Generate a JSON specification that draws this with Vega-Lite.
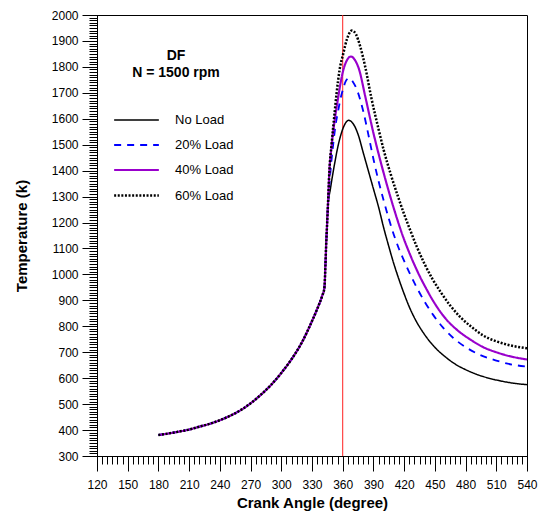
{
  "$schema": "https://vega.github.io/schema/vega-lite/v6.json",
  "width": 430,
  "height": 441,
  "autosize": {"type": "none"},
  "padding": {"left": 97, "top": 15, "right": 20, "bottom": 58},
  "background": "white",
  "config": {
    "font": "Liberation Sans",
    "view": {"stroke": "black", "strokeWidth": 1},
    "axis": {"grid": false, "domainColor": "black", "tickColor": "black", "labelColor": "black", "titleColor": "black", "labelFont": "Liberation Sans", "titleFont": "Liberation Sans"},
    "legend": {"orient": "none", "legendX": 22, "legendY": 34, "titleFontSize": 14, "titleFontWeight": "bold", "titleAnchor": "middle", "titleLineHeight": 17, "titlePadding": 23, "symbolType": "M-1.414,0L1.414,0", "symbolSize": 1000, "labelFontSize": 13, "labelOffset": 21, "rowPadding": 1, "labelColor": "black", "titleColor": "black"}
  },
  "datasets": {
    "curves": [
      {"load": "No Load", "angle": 180, "temp": 381}, {"load": "No Load", "angle": 190, "temp": 387}, {"load": "No Load", "angle": 200, "temp": 394}, {"load": "No Load", "angle": 210, "temp": 402}, {"load": "No Load", "angle": 220, "temp": 413}, {"load": "No Load", "angle": 230, "temp": 424}, {"load": "No Load", "angle": 240, "temp": 438}, {"load": "No Load", "angle": 250, "temp": 455}, {"load": "No Load", "angle": 260, "temp": 476}, {"load": "No Load", "angle": 270, "temp": 503}, {"load": "No Load", "angle": 280, "temp": 536}, {"load": "No Load", "angle": 290, "temp": 574}, {"load": "No Load", "angle": 300, "temp": 620}, {"load": "No Load", "angle": 310, "temp": 673}, {"load": "No Load", "angle": 320, "temp": 737}, {"load": "No Load", "angle": 330, "temp": 820}, {"load": "No Load", "angle": 335, "temp": 866}, {"load": "No Load", "angle": 340, "temp": 918}, {"load": "No Load", "angle": 342, "temp": 945}, {"load": "No Load", "angle": 344, "temp": 1130}, {"load": "No Load", "angle": 345.5, "temp": 1260},
      {"load": "No Load", "angle": 348, "temp": 1330}, {"load": "No Load", "angle": 352, "temp": 1425}, {"load": "No Load", "angle": 356, "temp": 1505}, {"load": "No Load", "angle": 360, "temp": 1560}, {"load": "No Load", "angle": 363, "temp": 1585}, {"load": "No Load", "angle": 366, "temp": 1594}, {"load": "No Load", "angle": 370, "temp": 1582}, {"load": "No Load", "angle": 375, "temp": 1540}, {"load": "No Load", "angle": 380, "temp": 1470}, {"load": "No Load", "angle": 385, "temp": 1400}, {"load": "No Load", "angle": 390, "temp": 1330}, {"load": "No Load", "angle": 395, "temp": 1260}, {"load": "No Load", "angle": 400, "temp": 1180}, {"load": "No Load", "angle": 405, "temp": 1108}, {"load": "No Load", "angle": 410, "temp": 1040}, {"load": "No Load", "angle": 415, "temp": 980}, {"load": "No Load", "angle": 420, "temp": 925}, {"load": "No Load", "angle": 425, "temp": 875}, {"load": "No Load", "angle": 430, "temp": 833}, {"load": "No Load", "angle": 440, "temp": 768}, {"load": "No Load", "angle": 450, "temp": 719}, {"load": "No Load", "angle": 460, "temp": 683}, {"load": "No Load", "angle": 470, "temp": 654}, {"load": "No Load", "angle": 480, "temp": 633}, {"load": "No Load", "angle": 490, "temp": 616}, {"load": "No Load", "angle": 500, "temp": 603}, {"load": "No Load", "angle": 510, "temp": 593}, {"load": "No Load", "angle": 520, "temp": 585}, {"load": "No Load", "angle": 530, "temp": 579}, {"load": "No Load", "angle": 540, "temp": 575},

      {"load": "20% Load", "angle": 180, "temp": 381}, {"load": "20% Load", "angle": 190, "temp": 387}, {"load": "20% Load", "angle": 200, "temp": 394}, {"load": "20% Load", "angle": 210, "temp": 402}, {"load": "20% Load", "angle": 220, "temp": 413}, {"load": "20% Load", "angle": 230, "temp": 424}, {"load": "20% Load", "angle": 240, "temp": 438}, {"load": "20% Load", "angle": 250, "temp": 455}, {"load": "20% Load", "angle": 260, "temp": 476}, {"load": "20% Load", "angle": 270, "temp": 503}, {"load": "20% Load", "angle": 280, "temp": 536}, {"load": "20% Load", "angle": 290, "temp": 574}, {"load": "20% Load", "angle": 300, "temp": 620}, {"load": "20% Load", "angle": 310, "temp": 673}, {"load": "20% Load", "angle": 320, "temp": 737}, {"load": "20% Load", "angle": 330, "temp": 820}, {"load": "20% Load", "angle": 335, "temp": 866}, {"load": "20% Load", "angle": 340, "temp": 918}, {"load": "20% Load", "angle": 342, "temp": 945}, {"load": "20% Load", "angle": 344, "temp": 1130}, {"load": "20% Load", "angle": 345.5, "temp": 1260},
      {"load": "20% Load", "angle": 347.6, "temp": 1377}, {"load": "20% Load", "angle": 350.8, "temp": 1505}, {"load": "20% Load", "angle": 353, "temp": 1575}, {"load": "20% Load", "angle": 355.7, "temp": 1634}, {"load": "20% Load", "angle": 358, "temp": 1680}, {"load": "20% Load", "angle": 360, "temp": 1710}, {"load": "20% Load", "angle": 363, "temp": 1745}, {"load": "20% Load", "angle": 366, "temp": 1756}, {"load": "20% Load", "angle": 370, "temp": 1742}, {"load": "20% Load", "angle": 375, "temp": 1700}, {"load": "20% Load", "angle": 380, "temp": 1630}, {"load": "20% Load", "angle": 385, "temp": 1540}, {"load": "20% Load", "angle": 390, "temp": 1445}, {"load": "20% Load", "angle": 395, "temp": 1360}, {"load": "20% Load", "angle": 400, "temp": 1285}, {"load": "20% Load", "angle": 405, "temp": 1215}, {"load": "20% Load", "angle": 410, "temp": 1152}, {"load": "20% Load", "angle": 415, "temp": 1098}, {"load": "20% Load", "angle": 420, "temp": 1052}, {"load": "20% Load", "angle": 425, "temp": 1008}, {"load": "20% Load", "angle": 432, "temp": 952}, {"load": "20% Load", "angle": 440, "temp": 895}, {"load": "20% Load", "angle": 448.5, "temp": 843}, {"load": "20% Load", "angle": 458, "temp": 795}, {"load": "20% Load", "angle": 468, "temp": 755}, {"load": "20% Load", "angle": 480, "temp": 720}, {"load": "20% Load", "angle": 494, "temp": 690}, {"load": "20% Load", "angle": 510, "temp": 668}, {"load": "20% Load", "angle": 526, "temp": 652}, {"load": "20% Load", "angle": 540, "temp": 645},

      {"load": "40% Load", "angle": 180, "temp": 381}, {"load": "40% Load", "angle": 190, "temp": 387}, {"load": "40% Load", "angle": 200, "temp": 394}, {"load": "40% Load", "angle": 210, "temp": 402}, {"load": "40% Load", "angle": 220, "temp": 413}, {"load": "40% Load", "angle": 230, "temp": 424}, {"load": "40% Load", "angle": 240, "temp": 438}, {"load": "40% Load", "angle": 250, "temp": 455}, {"load": "40% Load", "angle": 260, "temp": 476}, {"load": "40% Load", "angle": 270, "temp": 503}, {"load": "40% Load", "angle": 280, "temp": 536}, {"load": "40% Load", "angle": 290, "temp": 574}, {"load": "40% Load", "angle": 300, "temp": 620}, {"load": "40% Load", "angle": 310, "temp": 673}, {"load": "40% Load", "angle": 320, "temp": 737}, {"load": "40% Load", "angle": 330, "temp": 820}, {"load": "40% Load", "angle": 335, "temp": 866}, {"load": "40% Load", "angle": 340, "temp": 918}, {"load": "40% Load", "angle": 342, "temp": 945}, {"load": "40% Load", "angle": 344, "temp": 1130}, {"load": "40% Load", "angle": 345.5, "temp": 1260},
      {"load": "40% Load", "angle": 347, "temp": 1400}, {"load": "40% Load", "angle": 349, "temp": 1490}, {"load": "40% Load", "angle": 352, "temp": 1590}, {"load": "40% Load", "angle": 355.7, "temp": 1685}, {"load": "40% Load", "angle": 358, "temp": 1740}, {"load": "40% Load", "angle": 360.6, "temp": 1788}, {"load": "40% Load", "angle": 364, "temp": 1825}, {"load": "40% Load", "angle": 368, "temp": 1840}, {"load": "40% Load", "angle": 372, "temp": 1826}, {"load": "40% Load", "angle": 376, "temp": 1790}, {"load": "40% Load", "angle": 381.8, "temp": 1690}, {"load": "40% Load", "angle": 390, "temp": 1545}, {"load": "40% Load", "angle": 398, "temp": 1420}, {"load": "40% Load", "angle": 405, "temp": 1320}, {"load": "40% Load", "angle": 412, "temp": 1228}, {"load": "40% Load", "angle": 419, "temp": 1145}, {"load": "40% Load", "angle": 427, "temp": 1065}, {"load": "40% Load", "angle": 435, "temp": 995}, {"load": "40% Load", "angle": 442, "temp": 942}, {"load": "40% Load", "angle": 448, "temp": 900}, {"load": "40% Load", "angle": 460, "temp": 832}, {"load": "40% Load", "angle": 472, "temp": 785}, {"load": "40% Load", "angle": 485, "temp": 748}, {"load": "40% Load", "angle": 497, "temp": 720}, {"load": "40% Load", "angle": 510, "temp": 700}, {"load": "40% Load", "angle": 523, "temp": 685}, {"load": "40% Load", "angle": 540, "temp": 672},

      {"load": "60% Load", "angle": 180, "temp": 381}, {"load": "60% Load", "angle": 190, "temp": 387}, {"load": "60% Load", "angle": 200, "temp": 394}, {"load": "60% Load", "angle": 210, "temp": 402}, {"load": "60% Load", "angle": 220, "temp": 413}, {"load": "60% Load", "angle": 230, "temp": 424}, {"load": "60% Load", "angle": 240, "temp": 438}, {"load": "60% Load", "angle": 250, "temp": 455}, {"load": "60% Load", "angle": 260, "temp": 476}, {"load": "60% Load", "angle": 270, "temp": 503}, {"load": "60% Load", "angle": 280, "temp": 536}, {"load": "60% Load", "angle": 290, "temp": 574}, {"load": "60% Load", "angle": 300, "temp": 620}, {"load": "60% Load", "angle": 310, "temp": 673}, {"load": "60% Load", "angle": 320, "temp": 737}, {"load": "60% Load", "angle": 330, "temp": 820}, {"load": "60% Load", "angle": 335, "temp": 866}, {"load": "60% Load", "angle": 340, "temp": 918}, {"load": "60% Load", "angle": 342, "temp": 945}, {"load": "60% Load", "angle": 344, "temp": 1130}, {"load": "60% Load", "angle": 345.5, "temp": 1260},
      {"load": "60% Load", "angle": 347, "temp": 1400}, {"load": "60% Load", "angle": 349.2, "temp": 1505}, {"load": "60% Load", "angle": 352, "temp": 1620}, {"load": "60% Load", "angle": 354, "temp": 1698}, {"load": "60% Load", "angle": 357, "temp": 1790}, {"load": "60% Load", "angle": 360.6, "temp": 1852}, {"load": "60% Load", "angle": 364, "temp": 1905}, {"load": "60% Load", "angle": 369, "temp": 1940}, {"load": "60% Load", "angle": 373, "temp": 1925}, {"load": "60% Load", "angle": 377, "temp": 1880}, {"load": "60% Load", "angle": 382, "temp": 1800}, {"load": "60% Load", "angle": 388, "temp": 1680}, {"load": "60% Load", "angle": 395, "temp": 1560}, {"load": "60% Load", "angle": 400, "temp": 1480}, {"load": "60% Load", "angle": 407, "temp": 1385}, {"load": "60% Load", "angle": 414, "temp": 1300}, {"load": "60% Load", "angle": 420, "temp": 1232}, {"load": "60% Load", "angle": 426, "temp": 1170}, {"load": "60% Load", "angle": 432, "temp": 1110}, {"load": "60% Load", "angle": 440, "temp": 1040}, {"load": "60% Load", "angle": 448, "temp": 980}, {"load": "60% Load", "angle": 456, "temp": 930}, {"load": "60% Load", "angle": 465, "temp": 880}, {"load": "60% Load", "angle": 475, "temp": 835}, {"load": "60% Load", "angle": 485, "temp": 800}, {"load": "60% Load", "angle": 497, "temp": 765}, {"load": "60% Load", "angle": 510, "temp": 742}, {"load": "60% Load", "angle": 523, "temp": 727}, {"load": "60% Load", "angle": 540, "temp": 715}
    ],
    "tdc": [{"angle": 360}]
  },
  "resolve": {"axis": {"x": "independent", "y": "independent"}},
  "layer": [
    {
      "data": {"name": "tdc"},
      "mark": {"type": "rule", "color": "#ff2020", "strokeWidth": 1},
      "encoding": {
        "x": {"field": "angle", "type": "quantitative", "scale": {"domain": [120, 540], "nice": false},
          "axis": {"orient": "bottom", "values": [120,125,130,135,140,145,150,155,160,165,170,175,180,185,190,195,200,205,210,215,220,225,230,235,240,245,250,255,260,265,270,275,280,285,290,295,300,305,310,315,320,325,330,335,340,345,350,355,360,365,370,375,380,385,390,395,400,405,410,415,420,425,430,435,440,445,450,455,460,465,470,475,480,485,490,495,500,505,510,515,520,525,530,535,540], "labels": false, "title": null, "tickSize": 8, "domain": true, "grid": false}}
      }
    },
    {
      "data": {"name": "curves"},
      "mark": {"type": "line", "interpolate": "monotone", "clip": true},
      "encoding": {
        "x": {"field": "angle", "type": "quantitative", "scale": {"domain": [120, 540], "nice": false},
          "axis": {"orient": "bottom", "values": [120,150,180,210,240,270,300,330,360,390,420,450,480,510,540], "tickSize": 15, "labelFontSize": 12, "labelPadding": 8, "labelFlush": false, "labelOverlap": false, "labelBound": false, "title": "Crank Angle (degree)", "titleFontSize": 15, "titleFontWeight": "bold", "titlePadding": 5}},
        "y": {"field": "temp", "type": "quantitative", "scale": {"domain": [300, 2000], "nice": false, "zero": false},
          "axis": {"orient": "left", "values": [300,400,500,600,700,800,900,1000,1100,1200,1300,1400,1500,1600,1700,1800,1900,2000], "tickSize": 15, "labelFontSize": 12, "labelPadding": 4, "labelFlush": false, "labelOverlap": false, "format": "d", "title": "Temperature (k)", "titleFontSize": 15, "titleFontWeight": "bold", "titlePadding": 22}},
        "color": {"field": "load", "type": "nominal",
          "scale": {"domain": ["No Load", "20% Load", "40% Load", "60% Load"], "range": ["#000000", "#0000ff", "#9900cc", "#000000"]},
          "legend": {"title": ["DF", "N = 1500 rpm"]}},
        "strokeDash": {"field": "load", "type": "nominal",
          "scale": {"domain": ["No Load", "20% Load", "40% Load", "60% Load"], "range": [[1, 0], [7, 6], [1, 0], [2, 1.6]]},
          "legend": {"title": ["DF", "N = 1500 rpm"]}},
        "strokeWidth": {"field": "load", "type": "nominal",
          "scale": {"domain": ["No Load", "20% Load", "40% Load", "60% Load"], "range": [1.5, 2.5, 2.5, 2.5]},
          "legend": {"title": ["DF", "N = 1500 rpm"]}}
      }
    },
    {
      "data": {"name": "tdc"},
      "mark": {"type": "rule", "color": "#ff2020", "strokeWidth": 1, "opacity": 0},
      "encoding": {
        "y": {"datum": 300, "type": "quantitative", "scale": {"domain": [300, 2000], "nice": false, "zero": false},
          "axis": {"orient": "left", "values": [300,310,320,330,340,350,360,370,380,390,400,410,420,430,440,450,460,470,480,490,500,510,520,530,540,550,560,570,580,590,600,610,620,630,640,650,660,670,680,690,700,710,720,730,740,750,760,770,780,790,800,810,820,830,840,850,860,870,880,890,900,910,920,930,940,950,960,970,980,990,1000,1010,1020,1030,1040,1050,1060,1070,1080,1090,1100,1110,1120,1130,1140,1150,1160,1170,1180,1190,1200,1210,1220,1230,1240,1250,1260,1270,1280,1290,1300,1310,1320,1330,1340,1350,1360,1370,1380,1390,1400,1410,1420,1430,1440,1450,1460,1470,1480,1490,1500,1510,1520,1530,1540,1550,1560,1570,1580,1590,1600,1610,1620,1630,1640,1650,1660,1670,1680,1690,1700,1710,1720,1730,1740,1750,1760,1770,1780,1790,1800,1810,1820,1830,1840,1850,1860,1870,1880,1890,1900,1910,1920,1930,1940,1950,1960,1970,1980,1990,2000], "labels": false, "title": null, "tickSize": 8, "grid": false}}
      }
    }
  ]
}
